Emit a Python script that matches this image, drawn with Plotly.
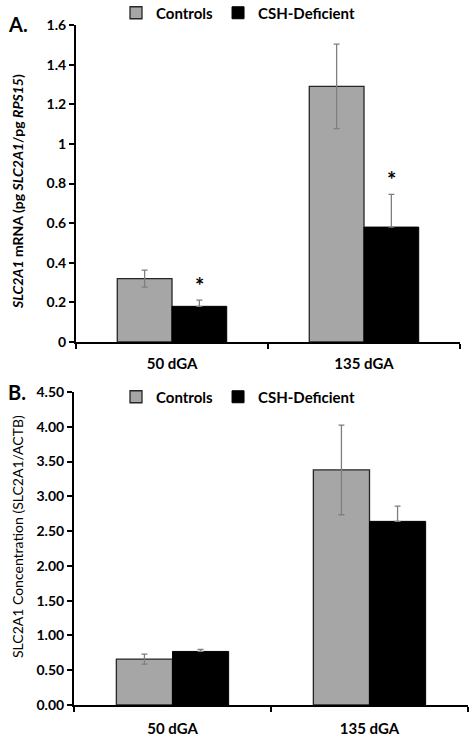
import plotly.graph_objects as go

categories = ["50 dGA", "135 dGA"]
series_names = ["Controls", "CSH-Deficient"]

# Panel A: SLC2A1 mRNA
a_controls = [0.32, 1.29]
a_controls_err = [0.043, 0.213]
a_csh = [0.18, 0.58]
a_csh_err = [0.031, 0.165]
a_sig = [True, True]

# Panel B: SLC2A1 protein concentration
b_controls = [0.66, 3.38]
b_controls_err = [0.072, 0.645]
b_csh = [0.77, 2.64]
b_csh_err = [0.03, 0.22]

a_ticks = [0, 0.2, 0.4, 0.6, 0.8, 1.0, 1.2, 1.4, 1.6]
b_ticks = [0, 0.5, 1.0, 1.5, 2.0, 2.5, 3.0, 3.5, 4.0, 4.5]

a_ytitle = "<b><i>SLC2A1</i> mRNA (pg <i>SLC2A1</i>/pg <i>RPS15</i>)</b>"
b_ytitle = "SLC2A1 Concentration (SLC2A1/ACTB)"

W, H = 476, 738
FONT = "Lato"
GRAY = "#A6A6A6"
ERRC = "#7F7F7F"
BARGAP = 0.43

fig = go.Figure()

def err(vals, lower=True):
    d = dict(type="data", array=vals, color=ERRC, thickness=1.3, width=3, visible=True)
    if not lower:
        d["symmetric"] = False
        d["arrayminus"] = [0] * len(vals)
    return d

fig.add_trace(go.Bar(x=categories, y=a_controls, name=series_names[0], marker=dict(color=GRAY, line=dict(color="#262626", width=1.3)),
                     error_y=err(a_controls_err), xaxis="x", yaxis="y", legend="legend"))
fig.add_trace(go.Bar(x=categories, y=a_csh, name=series_names[1], marker=dict(color="black", line=dict(color="black", width=1)),
                     error_y=err(a_csh_err, lower=False), xaxis="x", yaxis="y", legend="legend"))
fig.add_trace(go.Bar(x=categories, y=b_controls, name=series_names[0], marker=dict(color=GRAY, line=dict(color="#262626", width=1.3)),
                     error_y=err(b_controls_err), xaxis="x2", yaxis="y2", legend="legend2"))
fig.add_trace(go.Bar(x=categories, y=b_csh, name=series_names[1], marker=dict(color="black", line=dict(color="black", width=1)),
                     error_y=err(b_csh_err, lower=False), xaxis="x2", yaxis="y2", legend="legend2"))

# significance asterisks above CSH bars
offset = (1 - BARGAP) / 4
for i, s in enumerate(a_sig):
    if s:
        fig.add_annotation(x=i + offset, y=a_csh[i] + a_csh_err[i], xref="x", yref="y",
                           text="<b>*</b>", showarrow=False, yanchor="bottom", yshift=-1,
                           font=dict(family=FONT, size=22, color="black"))

tickfont = dict(family=FONT, size=14, color="black", weight="bold")
xcommon = dict(type="category", showline=True, linecolor="black", linewidth=1.5, ticks="outside",
               tickson="boundaries", ticklen=5, tickwidth=1.5, tickcolor="black",
               tickfont=dict(family=FONT, size=15, color="black", weight="bold"),
               showgrid=False, zeroline=False)
ycommon = dict(showline=True, linecolor="black", linewidth=2, ticks="outside", ticklen=5, tickwidth=1.5,
               tickcolor="black", tickfont=tickfont, showgrid=False, zeroline=False)

legfont = dict(family=FONT, size=15, color="black", weight="bold")

fig.update_layout(
    width=W, height=H, autosize=False,
    margin=dict(l=0, r=0, t=0, b=0, autoexpand=False),
    paper_bgcolor="white", plot_bgcolor="white",
    barmode="group", bargap=BARGAP, bargroupgap=0,
    font=dict(family=FONT, color="black"),
    xaxis=dict(domain=[76 / W, 460 / W], anchor="y", ticklabelstandoff=7, **xcommon),
    yaxis=dict(domain=[1 - 342 / H, 1 - 25 / H], anchor="x", range=[0, 1.6], tickvals=a_ticks,
               ticktext=[("%g" % t) for t in a_ticks], **ycommon),
    xaxis2=dict(domain=[74 / W, 468 / W], anchor="y2", ticklabelstandoff=9, **xcommon),
    yaxis2=dict(domain=[1 - 705 / H, 1 - 392 / H], anchor="x2", range=[0, 4.5], tickvals=b_ticks,
                ticktext=[("%.2f" % t) for t in b_ticks], **ycommon),
    legend=dict(orientation="h", x=0.5, xanchor="center", y=1 - 13 / H, yanchor="middle",
                font=legfont, itemwidth=30, traceorder="normal", bgcolor="rgba(0,0,0,0)"),
    legend2=dict(orientation="h", x=0.5, xanchor="center", y=1 - 397 / H, yanchor="middle",
                 font=legfont, itemwidth=30, traceorder="normal", bgcolor="rgba(0,0,0,0)"),
    showlegend=True,
)

# y-axis titles
fig.add_annotation(x=17 / W, y=1 - 192 / H, xref="paper", yref="paper", text=a_ytitle, textangle=-90,
                   showarrow=False, xanchor="center", yanchor="middle",
                   font=dict(family=FONT, size=14, color="black"))
fig.add_annotation(x=17 / W, y=1 - 537 / H, xref="paper", yref="paper", text=b_ytitle, textangle=-90,
                   showarrow=False, xanchor="center", yanchor="middle",
                   font=dict(family=FONT, size=14, color="black"))

# panel labels
fig.add_annotation(x=6 / W, y=1 - 24 / H, xref="paper", yref="paper", text="<b>A.</b>", showarrow=False,
                   xanchor="left", yanchor="middle", font=dict(family=FONT, size=20, color="black"))
fig.add_annotation(x=6 / W, y=1 - 392 / H, xref="paper", yref="paper", text="<b>B.</b>", showarrow=False,
                   xanchor="left", yanchor="middle", font=dict(family=FONT, size=20, color="black"))

fig.write_html("out.html", config={"displayModeBar": False},
               post_script="document.body.style.margin='0px';document.body.style.overflow='hidden';")
